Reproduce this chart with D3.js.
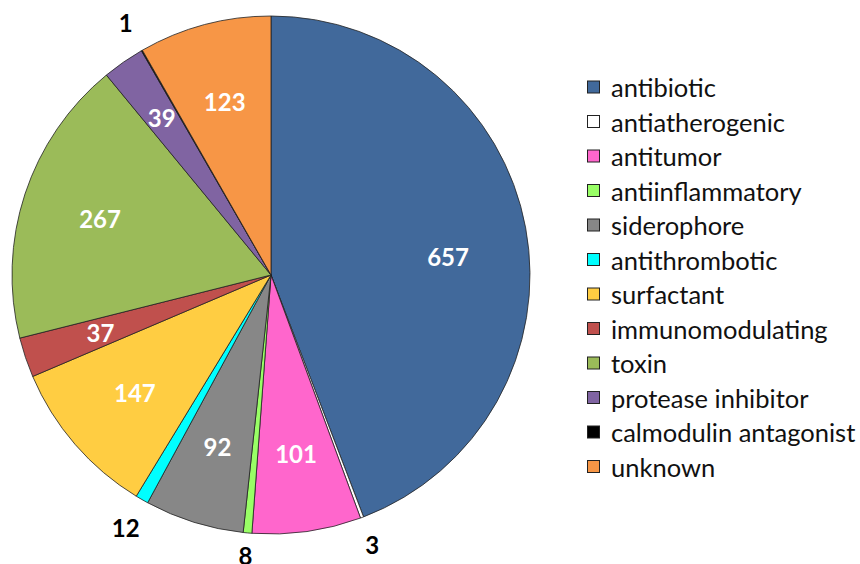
<!DOCTYPE html>
<html><head><meta charset="utf-8">
<script src="https://cdn.jsdelivr.net/npm/d3@7"></script>
<style>body{margin:0;background:#fff}svg{display:block}</style>
</head><body>
<svg id="c" width="860" height="564"></svg>
<script>
const categories = ["antibiotic","antiatherogenic","antitumor","antiinflammatory","siderophore","antithrombotic","surfactant","immunomodulating","toxin","protease inhibitor","calmodulin antagonist","unknown"];
const values = [657,3,101,8,92,12,147,37,267,39,1,123];
const colors = ["#41699B","#FFFFFF","#FF66CC","#99FF66","#878787","#00FFFF","#FFCD42","#C0504D","#9BBB59","#8064A2","#000000","#F79646"];
const outsideLabels = ["antiatherogenic","antiinflammatory","antithrombotic","calmodulin antagonist"];

const svg = d3.select("#c");
const font = "Lato, 'Open Sans', sans-serif";
const cx = 271, cy = 275, R = 259;
const data = categories.map((c,i)=>({name:c,value:values[i],color:colors[i]}));
const pie = d3.pie().value(d=>d.value).sort(null);
const arcs = pie(data);
const arc = d3.arc().innerRadius(0).outerRadius(R);

// label placement styling (Excel best-fit look)
const labelRadiusFactor = n => n === "protease inhibitor" ? 0.74 : 0.695;
const labelNudgeY = n => n === "antibiotic" ? 14 : 0;
function inPos(d){
  const a = (d.startAngle + d.endAngle)/2, r = R*labelRadiusFactor(d.data.name);
  return [r*Math.sin(a), -r*Math.cos(a) + labelNudgeY(d.data.name)];
}
function outPos(d){
  const a = (d.startAngle + d.endAngle)/2, r = R + 20 + 25*Math.abs(Math.sin(a));
  return [r*Math.sin(a), -r*Math.cos(a)];
}

const g = svg.append("g").attr("transform",`translate(${cx},${cy})`);
g.selectAll("path").data(arcs).join("path")
  .attr("d",arc).attr("fill",d=>d.data.color)
  .attr("stroke","#222").attr("stroke-width",0.8).attr("stroke-linejoin","round");

g.selectAll("text.in").data(arcs.filter(d=>!outsideLabels.includes(d.data.name))).join("text")
  .attr("class","in")
  .attr("transform",d=>`translate(${inPos(d)})`)
  .attr("text-anchor","middle").attr("dominant-baseline","central")
  .attr("font-family",font).attr("font-weight","bold").attr("font-size",24)
  .attr("fill","#fff").text(d=>d.data.value);

g.selectAll("text.out").data(arcs.filter(d=>outsideLabels.includes(d.data.name))).join("text")
  .attr("class","out")
  .attr("transform",d=>`translate(${outPos(d)})`)
  .attr("text-anchor","middle").attr("dominant-baseline","central")
  .attr("font-family",font).attr("font-weight","bold").attr("font-size",24)
  .attr("fill","#000").text(d=>d.data.value);

const lg = svg.append("g").attr("transform","translate(587,87)");
const step = 34.5;
const row = lg.selectAll("g").data(data).join("g").attr("transform",(d,i)=>`translate(0,${i*step})`);
row.append("rect").attr("x",0.5).attr("y",-6).attr("width",12).attr("height",12)
  .attr("fill",d=>d.color).attr("stroke","#222").attr("stroke-width",1);
row.append("text").attr("x",24).attr("y",0).attr("dominant-baseline","central")
  .attr("font-family",font).attr("font-size",25.5).attr("fill","#111").text(d=>d.name);
</script>
</body></html>
